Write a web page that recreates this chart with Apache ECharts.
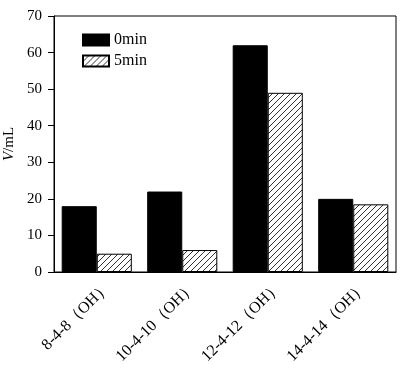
<!DOCTYPE html>
<html><head><meta charset="utf-8">
<script src="https://cdn.jsdelivr.net/npm/echarts@6/dist/echarts.min.js"></script>
<style>html,body{margin:0;padding:0;background:#fff}#c{width:405px;height:370px}</style>
</head><body><div id="c"></div>
<script>
var categories = ['8-4-8（OH）', '10-4-10（OH）', '12-4-12（OH）', '14-4-14（OH）'];
var series0min = [18, 22, 62, 20];
var series5min = [5, 6, 49, 18.5];
var yTicks = { min: 0, max: 70, interval: 10 };

var pc = document.createElement('canvas');
pc.width = 6; pc.height = 6;
var ctx = pc.getContext('2d');
ctx.fillStyle = '#fff'; ctx.fillRect(0, 0, 6, 6);
ctx.strokeStyle = '#333'; ctx.lineWidth = 1;
ctx.beginPath();
ctx.moveTo(-1, 7); ctx.lineTo(7, -1);
ctx.moveTo(-1, 1); ctx.lineTo(1, -1);
ctx.moveTo(5, 7); ctx.lineTo(7, 5);
ctx.stroke();
var hatch = { image: pc, repeat: 'repeat' };

var font = '"Liberation Serif","Times New Roman",serif';
var chart = echarts.init(document.getElementById('c'), null, { renderer: 'canvas' });
chart.setOption({
  animation: false,
  textStyle: { fontFamily: font, color: '#000' },
  grid: { left: 54, right: 9, top: 16, bottom: 98, show: true, borderColor: '#000', borderWidth: 1,
          containLabel: false, outerBoundsMode: 'none' },
  legend: {
    left: 82, top: 32, orient: 'vertical', itemWidth: 26, itemHeight: 11, itemGap: 5, itemTextGap: 4,
    padding: 0, icon: 'rect',
    textStyle: { fontFamily: font, fontSize: 16, color: '#000' },
    data: ['0min', '5min']
  },
  xAxis: {
    type: 'category', data: categories,
    axisLine: { lineStyle: { color: '#000' } },
    axisTick: { show: false },
    axisLabel: { rotate: 45, interval: 0, margin: 1, fontSize: 16, color: '#000', fontFamily: font,
                 verticalAlign: 'top', padding: [8, 0, 0, 0] }
  },
  yAxis: {
    type: 'value', min: yTicks.min, max: yTicks.max, interval: yTicks.interval,
    name: '{i|V}/mL', nameLocation: 'middle', nameGap: 37, nameRotate: 90,
    nameTextStyle: { fontSize: 15, fontFamily: font, color: '#000', rich: { i: { fontStyle: 'italic', fontSize: 15, fontFamily: font } } },
    axisLine: { show: true, lineStyle: { color: '#000' } },
    axisTick: { show: true, length: 6, lineStyle: { color: '#000' } },
    axisLabel: { margin: 12, fontSize: 15, color: '#000', fontFamily: font },
    splitLine: { show: false }
  },
  series: [
    { name: '0min', type: 'bar', data: series0min, barGap: '0%', barCategoryGap: '18%',
      itemStyle: { color: '#000', borderColor: '#000', borderWidth: 1 } },
    { name: '5min', type: 'bar', data: series5min,
      itemStyle: { color: hatch, borderColor: '#000', borderWidth: 1 } }
  ]
});
</script></body></html>
